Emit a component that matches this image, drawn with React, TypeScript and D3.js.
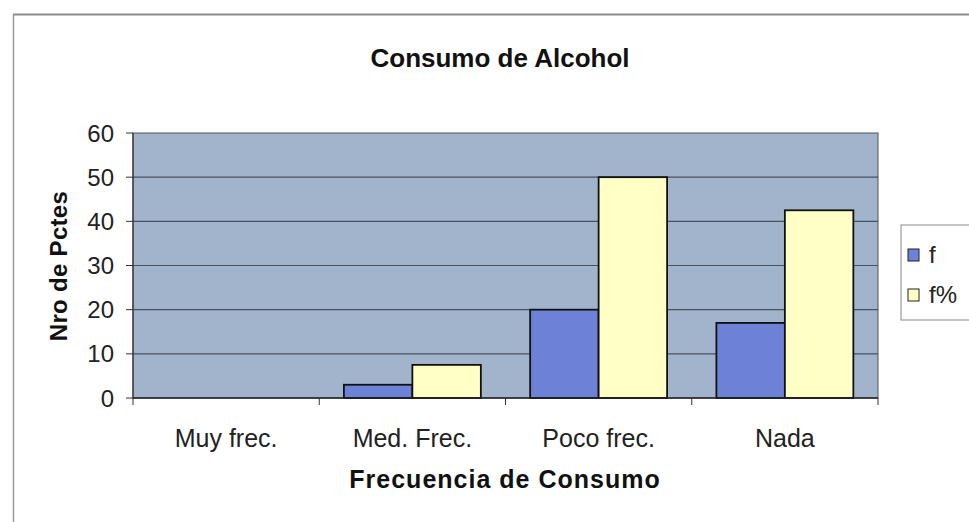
import React from "react";
import * as d3 from "d3";

const categories = ["Muy frec.", "Med. Frec.", "Poco frec.", "Nada"];
const seriesNames = ["f", "f%"];
const fValues = [0, 3, 20, 17];
const fPctValues = [0, 7.5, 50, 42.5];
const yTicks = [0, 10, 20, 30, 40, 50, 60];
const seriesColors = ["#6d82d6", "#ffffc6"];

const W = 969;
const H = 522;
const plot = { left: 133, right: 878, top: 133, bottom: 398 };
const font = "'Liberation Sans', Arial, sans-serif";

export default function App() {
  const x = d3.scaleBand<string>().domain(categories).range([plot.left, plot.right]).paddingInner(0).paddingOuter(0);
  const xs = d3.scaleBand<string>().domain(seriesNames).range([0, x.bandwidth()]).paddingInner(0).paddingOuter(0.36);
  const y = d3.scaleLinear().domain([0, 60]).range([plot.bottom, plot.top]);
  const series = [fValues, fPctValues];
  const boundaries = d3.range(categories.length + 1).map((i) => plot.left + i * x.step());

  return (
    <svg width={W} height={H} style={{ position: "absolute", left: 0, top: 0, background: "#fff" }}>
      <rect x={0} y={0} width={W} height={H} fill="#fff" />
      {/* outer frame */}
      <line x1={13} y1={14.5} x2={W} y2={14.5} stroke="#8a8a8a" strokeWidth={2} />
      <line x1={13.5} y1={14} x2={13.5} y2={H} stroke="#9a9a9a" strokeWidth={1.5} />

      <text x={500} y={67} textAnchor="middle" fontFamily={font} fontWeight="bold" fontSize={26} fill="#111">
        Consumo de Alcohol
      </text>

      {/* plot area */}
      <rect x={plot.left} y={plot.top} width={plot.right - plot.left} height={plot.bottom - plot.top} fill="#a2b4cb" stroke="#555" strokeWidth={1} />
      {yTicks.map((t) => (
        <g key={t}>
          {t > 0 && t < 60 && (
            <line x1={plot.left} x2={plot.right} y1={y(t)} y2={y(t)} stroke="#465264" strokeWidth={1.2} />
          )}
          <line x1={126} x2={plot.left} y1={y(t)} y2={y(t)} stroke="#333" strokeWidth={1} />
          <text x={114} y={y(t) + 8.5} textAnchor="end" fontFamily={font} fontSize={24} fill="#222">
            {t}
          </text>
        </g>
      ))}

      {/* bars */}
      {categories.map((c, i) => (
        <g key={c}>
          {series.map((vals, s) => {
            const v = vals[i];
            if (v <= 0) return null;
            const bx = (x(c) as number) + (xs(seriesNames[s]) as number);
            return (
              <rect
                key={s}
                x={bx}
                y={y(v)}
                width={xs.bandwidth()}
                height={y(0) - y(v)}
                fill={seriesColors[s]}
                stroke="#111"
                strokeWidth={1.8}
              />
            );
          })}
        </g>
      ))}

      {/* axes */}
      <line x1={plot.left} x2={plot.left} y1={plot.top} y2={plot.bottom} stroke="#333" strokeWidth={1.2} />
      <line x1={plot.left} x2={plot.right} y1={plot.bottom} y2={plot.bottom} stroke="#222" strokeWidth={1.5} />
      {boundaries.map((bx, i) => (
        <line key={i} x1={bx} x2={bx} y1={plot.bottom} y2={plot.bottom + 7} stroke="#333" strokeWidth={1} />
      ))}
      {categories.map((c) => (
        <text key={c} x={(x(c) as number) + x.bandwidth() / 2} y={447} textAnchor="middle" fontFamily={font} fontSize={25} fill="#222">
          {c}
        </text>
      ))}
      <text x={505} y={488} textAnchor="middle" fontFamily={font} fontWeight="bold" fontSize={25} fill="#111" letterSpacing={1}>
        Frecuencia de Consumo
      </text>
      <text
        transform={`translate(67, ${266}) rotate(-90)`}
        textAnchor="middle"
        fontFamily={font}
        fontWeight="bold"
        fontSize={24}
        fill="#111"
        letterSpacing={0.3}
      >
        Nro de Pctes
      </text>

      {/* legend */}
      <rect x={901} y={225} width={80} height={95} fill="#fff" stroke="#888" strokeWidth={1} />
      {seriesNames.map((n, s) => (
        <g key={n}>
          <rect x={908} y={249 + s * 40} width={11} height={12} fill={seriesColors[s]} stroke="#222" strokeWidth={1} />
          <text x={929} y={263 + s * 40} fontFamily={font} fontSize={24} fill="#222">
            {n}
          </text>
        </g>
      ))}
    </svg>
  );
}
